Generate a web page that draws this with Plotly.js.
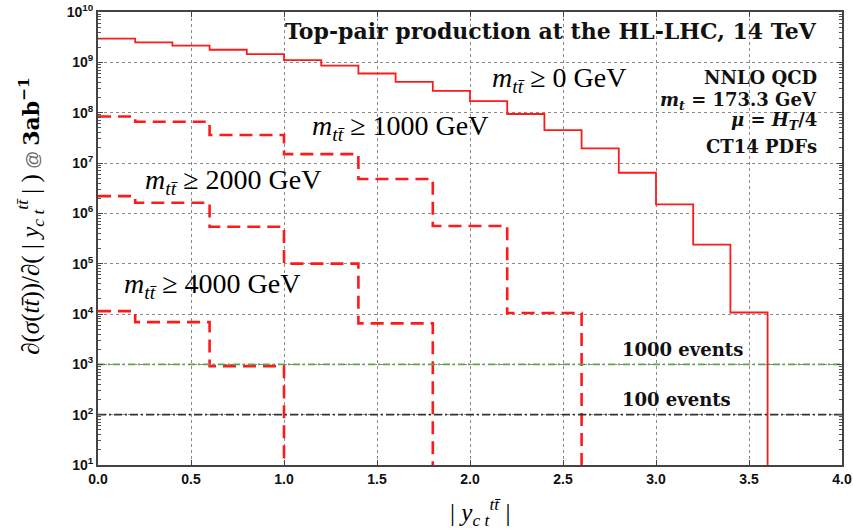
<!DOCTYPE html>
<html>
<head>
<meta charset="utf-8">
<script src="https://cdn.plot.ly/plotly-3.0.1.min.js"></script>
<style>html,body{margin:0;padding:0;background:#fff;}#chart{width:853px;height:529px;}</style>
</head>
<body>
<div id="chart"></div>
<script>
// ---- data ----
const edgesAll = [0,0.2,0.4,0.6,0.8,1.0,1.2,1.4,1.6,1.8,2.0,2.2,2.4,2.6,2.8,3.0,3.2,3.4,3.6];
const valsAll = [2.95e9,2.5e9,2.15e9,1.78e9,1.46e9,1.11e9,8.6e8,6.0e8,4.1e8,2.7e8,1.7e8,9.4e7,4.5e7,1.95e7,6.4e6,1.5e6,2.4e5,1.07e4];

const edges1000 = [0,0.2,0.6,1.0,1.4,1.8,2.2,2.6];
const vals1000 = [8.4e7,6.6e7,3.6e7,1.5e7,4.8e6,5.6e5,1.05e4];

const edges2000 = [0,0.2,0.6,1.0,1.4,1.8];
const vals2000 = [2.2e6,1.62e6,5.4e5,1.0e5,6.5e3];

const edges4000 = [0,0.2,0.6,1.0];
const vals4000 = [1.14e4,6.9e3,9.2e2];

const eventLevels = [1000, 100];
const eventLabels = ['1000 events', '100 events'];
const xRange = [0, 4];
const yTickExps = [1,2,3,4,5,6,7,8,9,10];
const yFloor = 1; // below the axis: vertical drop after last bin

const TT = 'tt\u0304';
function step(edges, vals){ return {x: edges, y: vals.concat([yFloor])}; }

const red = '#ff1a1a';
const traces = [];
function addStep(edges, vals, dash, width){
  const s = step(edges, vals);
  traces.push({x: s.x, y: s.y, type:'scatter', mode:'lines', line:{shape:'hv', color:red, width:width, dash:dash}, hoverinfo:'skip', showlegend:false});
}
addStep(edgesAll, valsAll, 'solid', 1.8);
addStep(edges1000, vals1000, '13px,7px', 2.6);
addStep(edges2000, vals2000, '13px,7px', 2.6);
addStep(edges4000, vals4000, '13px,7px', 2.6);

traces.push({x: xRange, y: [eventLevels[0], eventLevels[0]], type:'scatter', mode:'lines', line:{color:'#5aa84a', width:1.6, dash:'7px,3px,2px,3px'}, hoverinfo:'skip', showlegend:false});
traces.push({x: xRange, y: [eventLevels[1], eventLevels[1]], type:'scatter', mode:'lines', line:{color:'#333333', width:1.8, dash:'8px,3px,2px,3px'}, hoverinfo:'skip', showlegend:false});

const serif = 'Liberation Serif, Times New Roman, serif';
const bserif = 'DejaVu Serif, serif';
const mlab = (v) => '<i>m</i><sub><i>'+TT+'</i></sub> \u2265 '+v+' GeV';
const bfont = (s) => ({family:bserif, size:s, color:'#111', weight:'bold'});

const annotations = [
  {text:'Top-pair production at the HL-LHC, 14 TeV', x:0.969, y:0.958, xanchor:'right', yanchor:'middle', font:bfont(22)},
  {text:'NNLO QCD', x:0.969, y:0.856, xanchor:'right', yanchor:'middle', font:bfont(18)},
  {text:'<i>m</i><sub><i>t</i></sub> = 173.3 GeV', x:0.969, y:0.803, xanchor:'right', yanchor:'middle', font:bfont(18)},
  {text:'<i>\u03bc</i> = <i>H</i><sub><i>T</i></sub>/4', x:0.969, y:0.759, xanchor:'right', yanchor:'middle', font:bfont(18)},
  {text:'CT14 PDFs', x:0.969, y:0.703, xanchor:'right', yanchor:'middle', font:bfont(18)},
  {text:mlab(0), x:0.527, y:0.850, xanchor:'left', yanchor:'middle', font:{family:serif, size:28, color:'#000'}},
  {text:mlab(1000), x:0.285, y:0.746, xanchor:'left', yanchor:'middle', font:{family:serif, size:28, color:'#000'}},
  {text:mlab(2000), x:0.0605, y:0.625, xanchor:'left', yanchor:'middle', font:{family:serif, size:28, color:'#000'}},
  {text:mlab(4000), x:0.032, y:0.397, xanchor:'left', yanchor:'middle', font:{family:serif, size:28, color:'#000'}},
  {text:eventLabels[0], x:0.7016, y:0.254, xanchor:'left', yanchor:'middle', font:bfont(18)},
  {text:eventLabels[1], x:0.7016, y:0.1435, xanchor:'left', yanchor:'middle', font:bfont(18)},
  {text:'| <i>y</i><sub><i>c t</i></sub><sup><i>'+TT+'</i></sup> |', x:0.513, y:-0.104, xanchor:'center', yanchor:'middle', font:{family:serif, size:25, color:'#000'}},
  {text:'\u2202(<i>\u03c3</i>(<i>'+TT+'</i>))/\u2202( | <i>y</i><sub><i>c t</i></sub><sup><i>'+TT+'</i></sup> | )<span style="font-family:Liberation Sans;font-size:18px;color:#666"> @ </span><span style="font-family:DejaVu Serif;font-size:22px;font-weight:bold">3ab<sup>\u22121</sup></span>', x:-0.0914, y:0.55, textangle:-90, xanchor:'center', yanchor:'middle', font:{family:serif, size:25, color:'#000'}}
];
annotations.forEach(a => { a.xref='paper'; a.yref='paper'; a.showarrow=false; });

const layout = {
  width:853, height:529,
  margin:{l:98, r:11, t:12, b:64},
  paper_bgcolor:'#fff', plot_bgcolor:'#fff',
  showlegend:false,
  xaxis:{range:xRange, dtick:0.5, tick0:0, tickformat:'.1f', showgrid:true, gridcolor:'#8a8a8a', griddash:'dot', gridwidth:1,
    zeroline:false, showline:true, linecolor:'#444', linewidth:2, mirror:'ticks', ticks:'inside', ticklen:5, tickcolor:'#444',
    tickfont:{family:'Liberation Sans, Arial, sans-serif', size:14, color:'#111', weight:'bold'}},
  yaxis:{type:'log', range:[0.99999, 10.00001], tickmode:'array',
    tickvals: yTickExps.map(e => Math.pow(10, e)),
    ticktext: yTickExps.map(e => '10<sup>'+e+'</sup>'),
    showgrid:true, gridcolor:'#8a8a8a', griddash:'dot', gridwidth:1,
    zeroline:false, showline:true, linecolor:'#444', linewidth:2, mirror:'ticks', ticks:'inside', ticklen:5, tickcolor:'#444',
    minor:{ticks:'inside', ticklen:3, tickcolor:'#555', dtick:'D1', showgrid:false},
    tickfont:{family:'Liberation Sans, Arial, sans-serif', size:14, color:'#111', weight:'bold'}},
  annotations: annotations
};

Plotly.newPlot('chart', traces, layout, {staticPlot:true, displayModeBar:false});
</script>
</body>
</html>
